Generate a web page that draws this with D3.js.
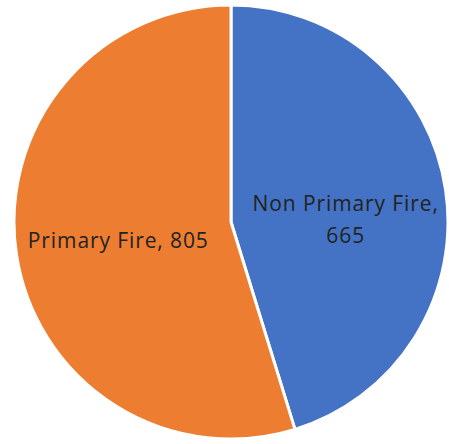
<!DOCTYPE html>
<html>
<head>
<meta charset="utf-8">
<script src="https://cdn.jsdelivr.net/npm/d3@7"></script>
<style>
  html, body { margin: 0; padding: 0; background: #ffffff; }
  svg { display: block; }
</style>
</head>
<body>
<svg id="chart" width="449" height="444"></svg>
<script>
// Fire incident counts by type
const categories = ["Non Primary Fire", "Primary Fire"];
const values = [665, 805];
const colors = ["#4472C4", "#ED7D31"];

const width = 449, height = 444;
const cx = 231, cy = 222, radius = 217;

const svg = d3.select("#chart");
const g = svg.append("g").attr("transform", `translate(${cx},${cy})`);

const data = categories.map((c, i) => ({ category: c, value: values[i] }));

const pie = d3.pie().value(d => d.value).sort(null);
const arc = d3.arc().innerRadius(0).outerRadius(radius);
const arcs = pie(data);

const color = d3.scaleOrdinal().domain(categories).range(colors);

g.selectAll("path.slice")
  .data(arcs)
  .join("path")
  .attr("class", "slice")
  .attr("d", arc)
  .attr("fill", d => color(d.data.category))
  .attr("stroke", "#ffffff")
  .attr("stroke-width", 3)
  .attr("stroke-linejoin", "round");

// Data labels inside each slice; the long label wraps after the category
const labelArc = d3.arc().innerRadius(radius * 0.53).outerRadius(radius * 0.53);
const fontFamily = "'Open Sans', Lato, sans-serif";
const lineHeight = 32;

arcs.forEach((d, i) => {
  const [lx, ly] = labelArc.centroid(d);
  const wrapped = i === 0;
  const textLines = wrapped
    ? [`${d.data.category},`, `${d.data.value}`]
    : [`${d.data.category}, ${d.data.value}`];
  const shiftY = wrapped ? 15 : 2;
  const t = g.append("text")
    .attr("text-anchor", "middle")
    .attr("font-family", fontFamily)
    .attr("font-size", 21)
    .attr("letter-spacing", 0.9)
    .attr("fill", "#222222");
  textLines.forEach((s, k) => {
    t.append("tspan")
      .attr("x", lx + 1)
      .attr("y", ly + shiftY + (k - (textLines.length - 1) / 2) * lineHeight)
      .attr("dy", "0.35em")
      .text(s);
  });
});
</script>
</body>
</html>
